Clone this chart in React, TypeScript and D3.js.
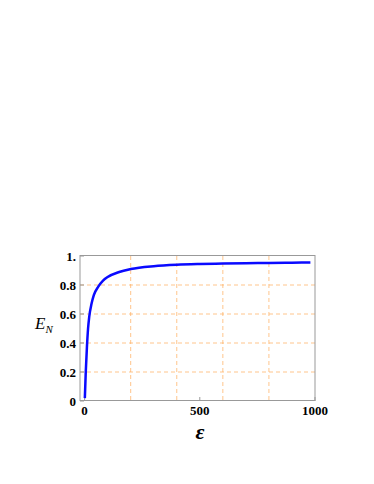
import React from "react";
import * as d3 from "d3";

// values
const eps = [1, 5, 10, 15, 20, 30, 40, 60, 80, 100, 150, 200, 300, 400, 500, 600, 700, 800, 900, 980];
const EN = [0.02, 0.2, 0.37, 0.5, 0.58, 0.67, 0.73, 0.79, 0.83, 0.855, 0.89, 0.91, 0.93, 0.94, 0.945, 0.948, 0.95, 0.952, 0.954, 0.955];
const xTicks = [0, 500, 1000];
const yTicks = [0, 0.2, 0.4, 0.6, 0.8, 1];
const yTickLabels = ["0", "0.2", "0.4", "0.6", "0.8", "1."];
const xGrid = [200, 400, 600, 800];
const yGrid = [0.2, 0.4, 0.6, 0.8];

const App = () => {
  const left = 80, right = 315, top = 256, bottom = 401;
  const x = d3.scaleLinear().domain([-20, 1000]).range([left, right]);
  const y = d3.scaleLinear().domain([0, 1]).range([bottom, top]);
  const pts = eps.map((e, i) => [e, EN[i]] as [number, number]);
  const line = d3.line<[number, number]>().x(d => x(d[0])).y(d => y(d[1])).curve(d3.curveMonotoneX);
  const font = "'Liberation Serif', 'DejaVu Serif', serif";
  const grid = "#ffb060";

  return (
    <svg width={374} height={484} style={{ position: "absolute", left: 0, top: 0 }}>
      <rect x={0} y={0} width={374} height={484} fill="#fff" />
      {xGrid.map(v => (
        <line key={"gx" + v} x1={x(v)} x2={x(v)} y1={top} y2={bottom} stroke={grid} strokeWidth={0.9} strokeDasharray="4,3" opacity={0.8} />
      ))}
      {yGrid.map(v => (
        <line key={"gy" + v} x1={left} x2={right} y1={y(v)} y2={y(v)} stroke={grid} strokeWidth={0.9} strokeDasharray="4,3" opacity={0.8} />
      ))}
      <rect x={left} y={top - 0.5} width={right - left} height={bottom - top} fill="none" stroke="#999" strokeWidth={1} />
      {xTicks.map(v => (
        <g key={"xt" + v}>
          <line x1={x(v)} x2={x(v)} y1={bottom} y2={bottom - 4} stroke="#999" />
          <text x={x(v)} y={bottom + 14} textAnchor="middle" fontFamily={font} fontSize={13} fontWeight="bold">{v}</text>
        </g>
      ))}
      {yTicks.map((v, i) => (
        <g key={"yt" + v}>
          <line x1={left} x2={left + 4} y1={y(v)} y2={y(v)} stroke="#999" />
          <text x={left - 4} y={y(v) + 4.5} textAnchor="end" fontFamily={font} fontSize={13} fontWeight="bold">{yTickLabels[i]}</text>
        </g>
      ))}
      <path d={line(pts) || ""} fill="none" stroke="#0a0aff" strokeWidth={2.5} />
      <text x={35} y={329} fontFamily={font} fontSize={17} fontStyle="italic">
        E<tspan fontSize={11} dy={4}>N</tspan>
      </text>
      <text x={200} y={439} textAnchor="middle" fontFamily={font} fontSize={22} fontStyle="italic" fontWeight="bold">ε</text>
    </svg>
  );
};

export default App;
